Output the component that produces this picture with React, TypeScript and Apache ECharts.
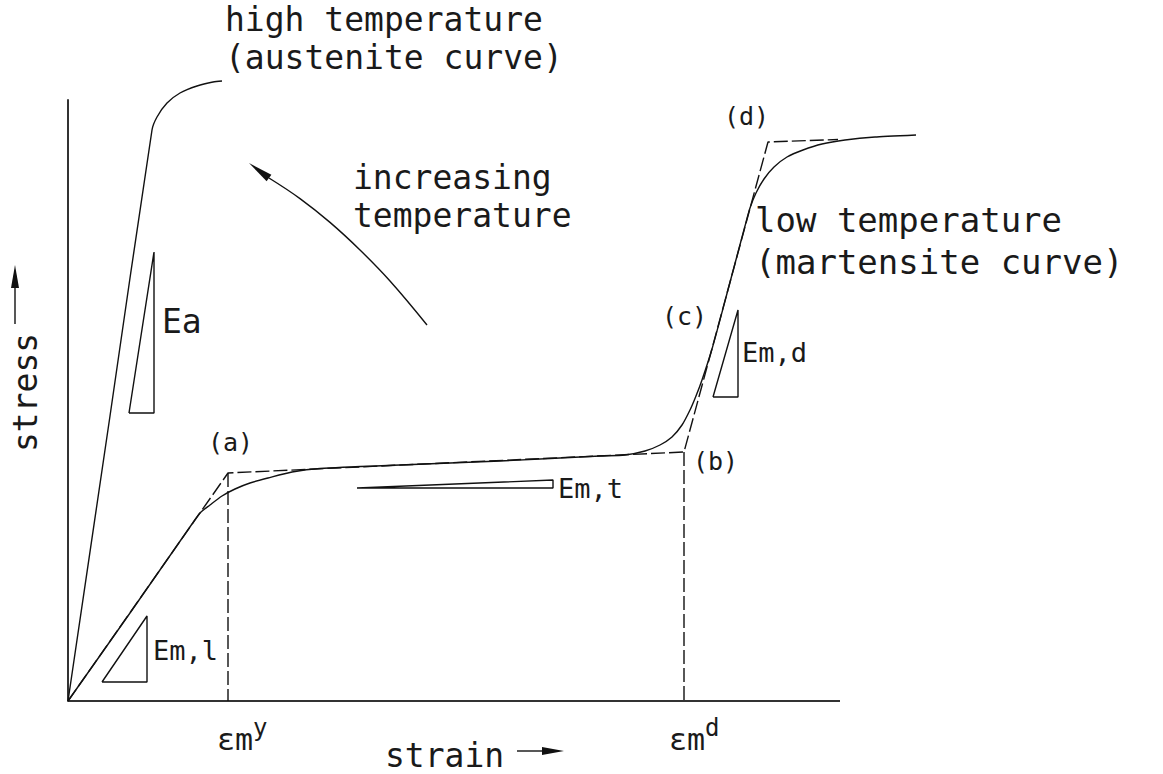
import React, { useEffect, useRef } from "react";
import * as echarts from "echarts";

// Schematic stress–strain diagram, arbitrary units: [strain, stress]
const austeniteCurve: [number, number][] = [
  [0, 0], [42, 285], [84, 571], [89, 584], [99, 598], [112, 608], [129, 615], [145, 619], [154, 620],
];

const martensiteCurve: [number, number][] = [
  [0, 0], [62, 88], [124, 177], [132, 188], [142, 196], [154, 205], [167, 212], [182, 218],
  [200, 223], [224, 229], [252, 232.5], [332, 236], [432, 240], [532, 245], [557, 246],
  [577, 250], [592, 256], [604, 264], [614, 276], [622, 291], [628, 305], [634, 321],
  [644, 352], [661, 415], [677, 475], [682, 493], [688, 508], [696, 522], [706, 534],
  [719, 544], [735, 551], [754, 557], [777, 561], [807, 564], [848, 566],
];

// bilinear idealisation (dashed): origin -> (a) -> (b) -> (d)
const idealisedCurve: [number, number][] = [
  [0, 0], [160, 228], [616, 249], [700, 559], [770, 561.5],
];
const strainYieldDrop: [number, number][] = [[160, 228], [160, 0]];
const strainDetwinDrop: [number, number][] = [[616, 249], [616, 0]];

// strain axis extent (the drawn axis line)
const strainAxisLine: [number, number][] = [[0, 0], [772, 0]];

// slope triangles
const triangleEa: [number, number][] = [[61, 288], [86, 288], [86, 449], [61, 288]];
const triangleEml: [number, number][] = [[34, 19], [79, 19], [79, 85], [34, 19]];
const triangleEmt: [number, number][] = [[289, 213], [485, 213], [485, 221], [289, 213]];
const triangleEmd: [number, number][] = [[645, 304], [670, 304], [670, 391], [645, 304]];

// "increasing temperature" arrow
const temperatureArrow: [number, number][] = [
  [359, 376], [322, 420], [292, 451], [262, 478.6], [232, 502.4], [201, 523],
];
const temperatureArrowTip: [number, number] = [181, 538];

const STRAIN_MAX = 848;
const STRESS_MAX = 601;

const FONT = "'DejaVu Sans Mono', monospace";
const INK = "#111";
const TEXT_INK = "#1a1a1a";

type Lbl = { t: string; x: number; y: number; s: number; lh?: number };
const labelLayout: Lbl[] = [
  { t: "high temperature\n(austenite curve)", x: 225, y: 38, s: 33, lh: 38 },
  { t: "increasing\ntemperature", x: 353, y: 196.5, s: 33, lh: 38 },
  { t: "low temperature\n(martensite curve)", x: 755, y: 241, s: 34, lh: 42 },
  { t: "(d)", x: 724, y: 116, s: 25 },
  { t: "(c)", x: 662, y: 316, s: 25 },
  { t: "(b)", x: 693, y: 461, s: 25 },
  { t: "(a)", x: 208, y: 442, s: 25 },
  { t: "Ea", x: 162, y: 321, s: 33 },
  { t: "Em,d", x: 742, y: 352, s: 27 },
  { t: "Em,t", x: 558, y: 488, s: 27 },
  { t: "Em,l", x: 153, y: 650, s: 27 },
  { t: "strain", x: 385, y: 755, s: 33 },
];

function lineSeries(
  name: string,
  data: [number, number][],
  opts: { dashed?: boolean; smooth?: number | boolean; width?: number; color?: string } = {}
) {
  return {
    name,
    type: "line",
    data,
    showSymbol: false,
    symbol: "none",
    clip: false,
    silent: true,
    smooth: opts.smooth ?? false,
    lineStyle: {
      color: opts.color ?? INK,
      width: opts.width ?? 1.4,
      type: opts.dashed ? [14, 4] : "solid",
    },
  };
}

export default function App() {
  const ref = useRef<HTMLDivElement>(null);
  useEffect(() => {
    if (!ref.current) return;
    const chart = echarts.init(ref.current, null, { renderer: "svg" });
    const axisCommon = {
      type: "value",
      axisTick: { show: false },
      axisLabel: { show: false },
      splitLine: { show: false },
    };
    chart.setOption({
      animation: false,
      backgroundColor: "#fff",
      grid: { left: 68, top: 100, width: 848, height: 601 },
      xAxis: { ...axisCommon, min: 0, max: STRAIN_MAX, axisLine: { show: false } },
      yAxis: {
        ...axisCommon,
        min: 0,
        max: STRESS_MAX,
        axisLine: { show: true, lineStyle: { color: "#333", width: 2 } },
      },
      series: [
        lineSeries("strain axis", strainAxisLine, { width: 2, color: "#333" }),
        lineSeries("austenite", austeniteCurve, { smooth: 0.25 }),
        lineSeries("martensite", martensiteCurve, { smooth: 0.25 }),
        lineSeries("idealised", idealisedCurve, { dashed: true }),
        lineSeries("yield", strainYieldDrop, { dashed: true }),
        lineSeries("detwin", strainDetwinDrop, { dashed: true }),
        lineSeries("Ea", triangleEa),
        lineSeries("Eml", triangleEml),
        lineSeries("Emt", triangleEmt),
        lineSeries("Emd", triangleEmd),
        lineSeries("temperature", temperatureArrow, { smooth: 0.4 }),
      ],
    });

    const base = chart.convertToPixel({ gridIndex: 0 }, temperatureArrow[temperatureArrow.length - 1]) as number[];
    const tip = chart.convertToPixel({ gridIndex: 0 }, temperatureArrowTip) as number[];
    const dx = tip[0] - base[0];
    const dy = tip[1] - base[1];
    const len = Math.hypot(dx, dy) || 1;
    const nx = -dy / len;
    const ny = dx / len;
    const hw = 4;

    const texts = labelLayout.map((l) => ({
      type: "text",
      x: l.x,
      y: l.y,
      silent: true,
      style: {
        text: l.t,
        fontSize: l.s,
        fontFamily: FONT,
        fill: TEXT_INK,
        align: "left",
        verticalAlign: "middle",
        ...(l.lh ? { lineHeight: l.lh } : {}),
      },
    }));

    const supLabel = (x: number, main: string, sup: string) => ({
      type: "text",
      x,
      y: 739,
      silent: true,
      style: {
        text: `{b|${main}}{s|${sup}}`,
        fontFamily: FONT,
        fill: TEXT_INK,
        align: "left",
        verticalAlign: "middle",
        rich: {
          b: { fontSize: 30, lineHeight: 46, fontFamily: FONT, fill: TEXT_INK },
          s: { fontSize: 24, fontFamily: FONT, fill: TEXT_INK, verticalAlign: "top" },
        },
      },
    });

    chart.setOption({
      graphic: [
        ...texts,
        supLabel(217, "εm", "y"),
        supLabel(669, "εm", "d"),
        {
          type: "text",
          x: 25,
          y: 452,
          rotation: Math.PI / 2,
          silent: true,
          style: {
            text: "stress",
            fontSize: 33,
            fontFamily: FONT,
            fill: TEXT_INK,
            align: "left",
            verticalAlign: "middle",
          },
        },
        {
          type: "line",
          silent: true,
          shape: { x1: 15, y1: 324, x2: 15, y2: 286 },
          style: { stroke: INK, lineWidth: 1.4 },
        },
        {
          type: "polygon",
          silent: true,
          shape: { points: [[15, 265], [11, 288], [19, 288]] },
          style: { fill: INK },
        },
        {
          type: "line",
          silent: true,
          shape: { x1: 517, y1: 751, x2: 544, y2: 751 },
          style: { stroke: INK, lineWidth: 1.4 },
        },
        {
          type: "polygon",
          silent: true,
          shape: { points: [[564, 751], [542, 747], [542, 755]] },
          style: { fill: INK },
        },
        {
          type: "polygon",
          silent: true,
          shape: {
            points: [
              [tip[0], tip[1]],
              [base[0] + nx * hw, base[1] + ny * hw],
              [base[0] - nx * hw, base[1] - ny * hw],
            ],
          },
          style: { fill: INK },
        },
      ],
    });

    return () => chart.dispose();
  }, []);

  return (
    <div
      ref={ref}
      style={{ position: "fixed", left: 0, top: 0, width: 1163, height: 774, background: "#fff" }}
    />
  );
}
